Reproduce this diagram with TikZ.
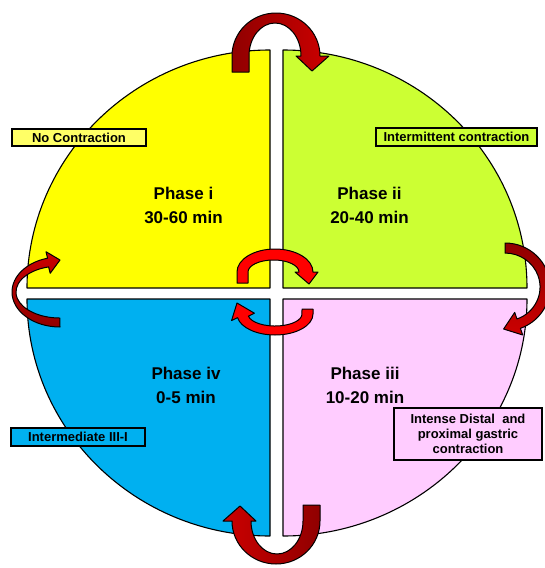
\documentclass[tikz,border=0pt]{standalone}
\usepackage{fontspec}
\setmainfont{Liberation Sans}
\definecolor{qyellow}{HTML}{FFFF00}
\definecolor{qgreen}{HTML}{CCFF33}
\definecolor{qblue}{HTML}{00B0F0}
\definecolor{qpink}{HTML}{FFCCFF}
\definecolor{lyellow}{HTML}{FFFF66}
\definecolor{dred}{HTML}{900000}
\definecolor{mred}{HTML}{CC0000}
\begin{document}
\begin{tikzpicture}[x=1pt,y=-1pt,
  quad/.style={draw=black,line width=1.1pt,line join=round},
  bigarrow/.style={draw=black,line width=1pt,line join=round},
  redarrow/.style={draw=black,line width=1pt,fill=red,line join=round},
  lbl/.style={draw=black,line width=1.2pt,font=\bfseries\fontsize{13}{15}\selectfont,inner sep=0pt,align=center},
  phase/.style={font=\bfseries\fontsize{17}{24}\selectfont,align=center,inner sep=0pt}]
\useasboundingbox (0,0) rectangle (544,568);
% quadrants
\path[quad,fill=qyellow] (270,288) -- (27,288) arc[start angle=180,end angle=270,x radius=243,y radius=238] -- cycle;
\path[quad,fill=qgreen] (283,288) -- (283,50) arc[start angle=270,end angle=360,x radius=244,y radius=238] -- cycle;
\path[quad,fill=qpink] (283,299) -- (527,299) arc[start angle=0,end angle=90,x radius=244,y radius=237] -- cycle;
\path[quad,fill=qblue] (270,299) -- (270,536) arc[start angle=90,end angle=180,x radius=243,y radius=237] -- cycle;
% top arrow
\path[bigarrow,left color=dred,right color=mred] (232,72) -- (232,56) arc[start angle=180,end angle=360,x radius=44,y radius=43]
  -- (329,56) -- (312,71) -- (296,56) -- (301,56) arc[start angle=360,end angle=180,x radius=26,y radius=33] -- (249,72) -- cycle;
% bottom arrow
\path[bigarrow,left color=mred,right color=dred] (320,505) -- (320,521) arc[start angle=0,end angle=180,x radius=44,y radius=43]
  -- (223,521) -- (240,506) -- (256,521) -- (251,521) arc[start angle=180,end angle=0,x radius=26,y radius=33] -- (303,505) -- cycle;
% left arrow
\path[bigarrow,top color=mred,bottom color=dred] (60,327) arc[start angle=90,end angle=255,x radius=48,y radius=35]
  -- (46,251.7) -- (60,260) -- (50.2,273.3) -- (48.6,266.9) arc[start angle=255,end angle=90,x radius=44,y radius=26] -- cycle;
% right arrow
\path[bigarrow,top color=dred,bottom color=mred] (505,243) arc[start angle=270,end angle=430,x radius=45,y radius=44]
  -- (522.7,335) -- (503.6,329) -- (514.7,312.4) -- (517,319) arc[start angle=70,end angle=-90,x radius=35,y radius=34] -- cycle;
% centre arrows
\path[redarrow] (237,283) -- (237,272) arc[start angle=180,end angle=360,x radius=38,y radius=23]
  -- (318,272) -- (309,284) -- (295,272) -- (299,272) arc[start angle=360,end angle=180,x radius=25.5,y radius=12] -- (248,283) -- cycle;
\path[redarrow] (313,309) -- (313,314) arc[start angle=0,end angle=170,x radius=38,y radius=21]
  -- (231.6,320.5) -- (237,303) -- (254.4,313.2) -- (248.4,316.1) arc[start angle=170,end angle=0,x radius=27,y radius=12] -- (302,309) -- cycle;
% labels
\node[lbl,fill=lyellow,minimum width=134pt,minimum height=17pt] (nocon) at (79,137.5) {No Contraction};
\node[lbl,fill=qgreen,minimum width=161pt,minimum height=18pt] (intermit) at (456.5,137) {Intermittent contraction};
\node[lbl,fill=qpink,minimum width=148pt,minimum height=52pt] (intense) at (468,434) {Intense Distal\ \ and\\proximal gastric\\contraction};
\node[lbl,fill=qblue,minimum width=134pt,minimum height=18pt] (interm) at (78,437) {Intermediate III-I};
% phases
\node[phase] (p1) at (183.5,205) {Phase i\\30-60 min};
\node[phase] (p2) at (369.5,205) {Phase ii\\20-40 min};
\node[phase] (p4) at (186,385) {Phase iv\\0-5 min};
\node[phase] (p3) at (365,385) {Phase iii\\10-20 min};
\end{tikzpicture}
\end{document}
